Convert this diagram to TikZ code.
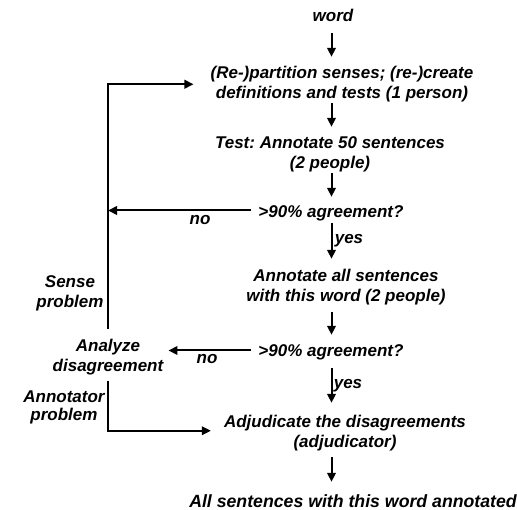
\documentclass[tikz,border=0pt]{standalone}
\usepackage{fontspec}
\setmainfont{Liberation Sans}
\usetikzlibrary{arrows.meta,calc}
\frenchspacing
% struts that fix the height of the first line and the depth of the last
\newcommand{\tstrut}{\rule{0pt}{13pt}}
\newcommand{\bstrut}{\rule[-4pt]{0pt}{4pt}}
\begin{document}
\begin{tikzpicture}[x=1pt,y=-1pt,
  base/.style={font=\fontsize{17}{20.5}\selectfont\bfseries\itshape, align=center,
    inner xsep=0pt, inner ysep=0pt},
  txt/.style={base, text height=13pt, text depth=4pt},
  multi/.style={base},
  arr/.style={line width=2pt, -{Triangle[length=9pt,width=8.5pt]}}]
\useasboundingbox (0,0) rectangle (517,510);
\coordinate (col) at (331.5,0);

% main column
\node[txt] (word) at (333,17) {word};
\node[multi] (part) at (342,84.25) {\tstrut(Re-)partition senses; (re-)create\\definitions and tests (1 person)\bstrut};
\node[multi] (test) at (330,154.25) {\tstrut Test: Annotate 50 sentences\\(2 people)\bstrut};
\node[txt] (agree1) at (331,213) {>90\% agreement?};
\node[multi] (annot) at (346,287.25) {\tstrut Annotate all sentences\\with this word (2 people)\bstrut};
\node[txt] (agree2) at (331,352) {>90\% agreement?};
\node[multi] (adj) at (345,433.25) {\tstrut Adjudicate the disagreements\\(adjudicator)\bstrut};
\node[txt, font=\fontsize{17.7}{20.5}\selectfont\bfseries\itshape] (all) at (353,503) {All sentences with this word annotated};

% side branch
\node[multi] (analyze) at (108,357.25) {\tstrut Analyze\\disagreement\bstrut};
\node[multi] (sense) at (70,293) {\tstrut Sense\\problem\bstrut};
\node[multi, font=\fontsize{17}{18}\selectfont\bfseries\itshape] (annotator) at (64,407) {\tstrut Annotator\\problem\bstrut};

% edge labels
\node[txt] (no1) at (200,220) {no};
\node[txt] (yes1) at (349,239) {yes};
\node[txt] (no2) at (207,359) {no};
\node[txt] (yes2) at (348,384) {yes};

% downward arrows
\draw[arr, shorten <=7.5pt, shorten >=8.5pt] (word.south -| col) -- (part.north -| col);
\draw[arr, shorten >=8.5pt] (part.south -| col) -- (test.north -| col);
\draw[arr, shorten >=7.5pt] (test.south -| col) -- (agree1.north -| col);
\draw[arr, shorten <=1.5pt, shorten >=9.5pt] (agree1.south -| col) -- (annot.north -| col);
\draw[arr, shorten <=6pt, shorten >=8.5pt] (annot.south -| col) -- (agree2.north -| col);
\draw[arr, shorten <=7.5pt, shorten >=11.5pt] (agree2.south -| col) -- (adj.north -| col);
\draw[arr, shorten <=5pt, shorten >=12.5pt] (adj.south -| col) -- (all.north -| col);

% loop back for a sense problem
\draw[arr, shorten <=9.5pt, shorten >=17pt] ([xshift=-0.5pt]analyze.north) |- (part.west);
\draw[arr, shorten <=7pt] ([yshift=2.5pt]agree1.west) -- ([yshift=2.5pt]agree1.west -| analyze.north);

% failing second check goes to analysis
\draw[arr, shorten <=7pt, shorten >=5pt] ([yshift=1.5pt]agree2.west) -- ([yshift=1.5pt]agree2.west -| analyze.east);

% annotator problem goes to adjudication
\draw[arr, shorten <=4.5pt, shorten >=13pt] ([xshift=-0.5pt]analyze.south) |- ([yshift=2.5pt]adj.west);
\end{tikzpicture}
\end{document}
